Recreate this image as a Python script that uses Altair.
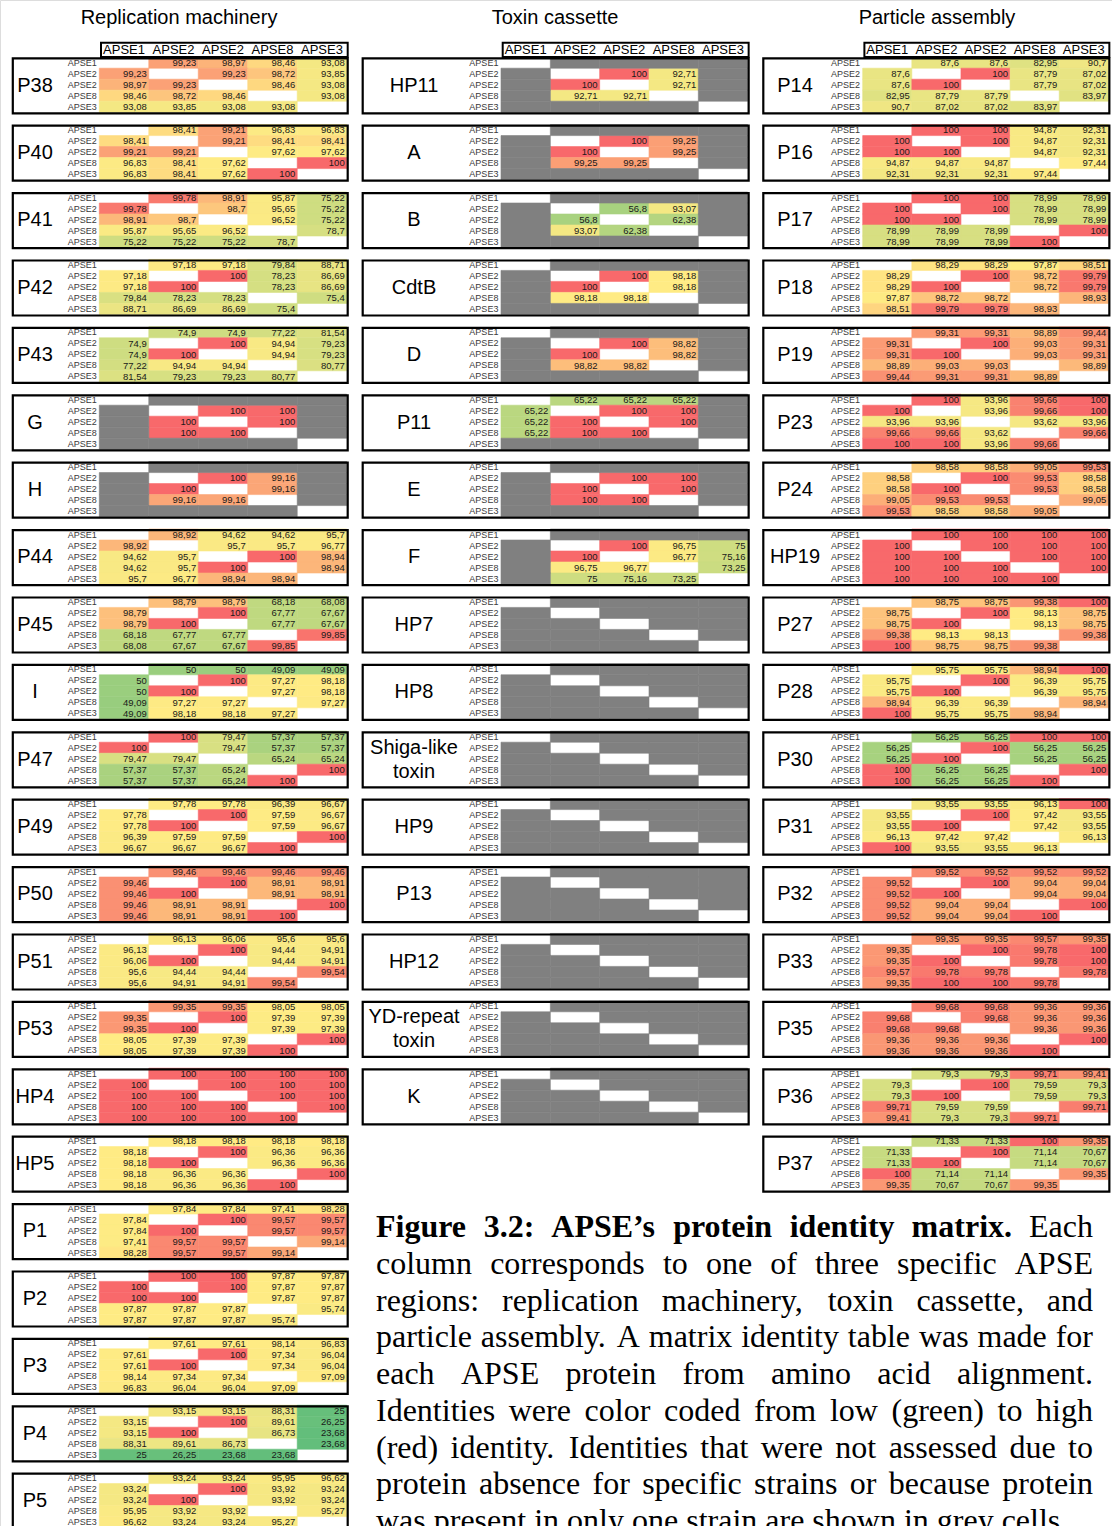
import altair as alt
import pandas as pd

W, H = 1112, 1526

STRAINS = ["APSE1", "APSE2", "APSE2", "APSE8", "APSE3"]

# Pairwise identities (%) above the diagonal, in the order
# (1,2) (1,3) (1,4) (1,5) (2,3) (2,4) (2,5) (3,4) (3,5) (4,5); None = not assessed.
N = None
REPLICATION = {
    "P38": [99.23, 98.97, 98.46, 93.08, 99.23, 98.72, 93.85, 98.46, 93.08, 93.08],
    "P40": [98.41, 99.21, 96.83, 96.83, 99.21, 98.41, 98.41, 97.62, 97.62, 100],
    "P41": [99.78, 98.91, 95.87, 75.22, 98.7, 95.65, 75.22, 96.52, 75.22, 78.7],
    "P42": [97.18, 97.18, 79.84, 88.71, 100, 78.23, 86.69, 78.23, 86.69, 75.4],
    "P43": [74.9, 74.9, 77.22, 81.54, 100, 94.94, 79.23, 94.94, 79.23, 80.77],
    "G":   [N, N, N, N, 100, 100, N, 100, N, N],
    "H":   [N, N, N, N, 100, 99.16, N, 99.16, N, N],
    "P44": [98.92, 94.62, 94.62, 95.7, 95.7, 95.7, 96.77, 100, 98.94, 98.94],
    "P45": [98.79, 98.79, 68.18, 68.08, 100, 67.77, 67.67, 67.77, 67.67, 99.85],
    "I":   [50, 50, 49.09, 49.09, 100, 97.27, 98.18, 97.27, 98.18, 97.27],
    "P47": [100, 79.47, 57.37, 57.37, 79.47, 57.37, 57.37, 65.24, 65.24, 100],
    "P49": [97.78, 97.78, 96.39, 96.67, 100, 97.59, 96.67, 97.59, 96.67, 100],
    "P50": [99.46, 99.46, 99.46, 99.46, 100, 98.91, 98.91, 98.91, 98.91, 100],
    "P51": [96.13, 96.06, 95.6, 95.6, 100, 94.44, 94.91, 94.44, 94.91, 99.54],
    "P53": [99.35, 99.35, 98.05, 98.05, 100, 97.39, 97.39, 97.39, 97.39, 100],
    "HP4": [100, 100, 100, 100, 100, 100, 100, 100, 100, 100],
    "HP5": [98.18, 98.18, 98.18, 98.18, 100, 96.36, 96.36, 96.36, 96.36, 100],
    "P1":  [97.84, 97.84, 97.41, 98.28, 100, 99.57, 99.57, 99.57, 99.57, 99.14],
    "P2":  [100, 100, 97.87, 97.87, 100, 97.87, 97.87, 97.87, 97.87, 95.74],
    "P3":  [97.61, 97.61, 98.14, 96.83, 100, 97.34, 96.04, 97.34, 96.04, 97.09],
    "P4":  [93.15, 93.15, 88.31, 25, 100, 89.61, 26.25, 86.73, 23.68, 23.68],
    "P5":  [93.24, 93.24, 95.95, 96.62, 100, 93.92, 93.24, 93.92, 93.24, 95.27],
}
TOXIN = {
    "HP11": [N, N, N, N, 100, 92.71, N, 92.71, N, N],
    "A":    [N, N, N, N, 100, 99.25, N, 99.25, N, N],
    "B":    [N, N, N, N, 56.8, 93.07, N, 62.38, N, N],
    "CdtB": [N, N, N, N, 100, 98.18, N, 98.18, N, N],
    "D":    [N, N, N, N, 100, 98.82, N, 98.82, N, N],
    "P11":  [65.22, 65.22, 65.22, N, 100, 100, N, 100, N, N],
    "E":    [N, N, N, N, 100, 100, N, 100, N, N],
    "F":    [N, N, N, N, 100, 96.75, 75, 96.77, 75.16, 73.25],
    "HP7":  [N] * 10,
    "HP8":  [N] * 10,
    "Shiga-like toxin": [N] * 10,
    "HP9":  [N] * 10,
    "P13":  [N] * 10,
    "HP12": [N] * 10,
    "YD-repeat toxin": [N] * 10,
    "K":    [N] * 10,
}
PARTICLE = {
    "P14":  [87.6, 87.6, 82.95, 90.7, 100, 87.79, 87.02, 87.79, 87.02, 83.97],
    "P16":  [100, 100, 94.87, 92.31, 100, 94.87, 92.31, 94.87, 92.31, 97.44],
    "P17":  [100, 100, 78.99, 78.99, 100, 78.99, 78.99, 78.99, 78.99, 100],
    "P18":  [98.29, 98.29, 97.87, 98.51, 100, 98.72, 99.79, 98.72, 99.79, 98.93],
    "P19":  [99.31, 99.31, 98.89, 99.44, 100, 99.03, 99.31, 99.03, 99.31, 98.89],
    "P23":  [100, 93.96, 99.66, 100, 93.96, 99.66, 100, 93.62, 93.96, 99.66],
    "P24":  [98.58, 98.58, 99.05, 99.53, 100, 99.53, 98.58, 99.53, 98.58, 99.05],
    "HP19": [100, 100, 100, 100, 100, 100, 100, 100, 100, 100],
    "P27":  [98.75, 98.75, 99.38, 100, 100, 98.13, 98.75, 98.13, 98.75, 99.38],
    "P28":  [95.75, 95.75, 98.94, 100, 100, 96.39, 95.75, 96.39, 95.75, 98.94],
    "P30":  [56.25, 56.25, 100, 100, 100, 56.25, 56.25, 56.25, 56.25, 100],
    "P31":  [93.55, 93.55, 96.13, 100, 100, 97.42, 93.55, 97.42, 93.55, 96.13],
    "P32":  [99.52, 99.52, 99.52, 99.52, 100, 99.04, 99.04, 99.04, 99.04, 100],
    "P33":  [99.35, 99.35, 99.57, 99.35, 100, 99.78, 100, 99.78, 100, 99.78],
    "P35":  [99.68, 99.68, 99.36, 99.36, 99.68, 99.36, 99.36, 99.36, 99.36, 100],
    "P36":  [79.3, 79.3, 99.71, 99.41, 100, 79.59, 79.3, 79.59, 79.3, 99.71],
    "P37":  [71.33, 71.33, 100, 99.35, 100, 71.14, 70.67, 71.14, 70.67, 99.35],
}

CAPTION_BOLD = "Figure 3.2: APSE’s protein identity matrix."
CAPTION_LINES = [
    "Figure 3.2: APSE’s protein identity matrix. Each",
    "column corresponds to one of three specific APSE",
    "regions: replication machinery, toxin cassette, and",
    "particle assembly. A matrix identity table was made for",
    "each APSE protein from amino acid alignment.",
    "Identities were color coded from low (green) to high",
    "(red) identity. Identities that were not assessed due to",
    "protein absence for specific strains or because protein",
    "was present in only one strain are shown in grey cells.",
]

# ---- layout of the three columns of panels ----
SECTIONS = [
    ("Replication machinery", REPLICATION, dict(L=12.8, M=99.3, cw=49.48, name_x=35, title_x=179)),
    ("Toxin cassette", TOXIN, dict(L=362.7, M=501.0, cw=49.33, name_x=414, title_x=555)),
    ("Particle assembly", PARTICLE, dict(L=763.3, M=862.7, cw=49.13, name_x=795, title_x=937)),
]
TOP0, PITCH = 57.0, 67.4
ROW0, ROW_H = 0.2, 11.0
NAME_LH = 24
PAIRS = [(i, j) for i in range(5) for j in range(i + 1, 5)]


def fmt(v):
    return "" if v is None else f"{v:g}".replace(".", ",")


cells, rowlabs, panels, head_boxes, head_labels, titles = [], [], [], [], [], []
for title, table, lay in SECTIONS:
    M, cw = lay["M"], lay["cw"]
    right = M + 5 * cw
    titles.append(dict(x=lay["title_x"], y=18, t=title))
    head_boxes.append(dict(x=M + 1.7, x2=right + 1.0, y=42.7, y2=57.0))
    for c, s in enumerate(STRAINS):
        head_labels.append(dict(x=M + (c + 0.5) * cw, y=50.0, t=s))
    for p, (name, tri) in enumerate(table.items()):
        top = TOP0 + p * PITCH
        full = [[None] * 5 for _ in range(5)]
        for (i, j), v in zip(PAIRS, tri):
            full[i][j] = full[j][i] = v
        n_lines = len(name.split(" "))
        panels.append(dict(x=lay["L"], x2=right + 1.0, y=top + 1.3, y2=top + 56.3,
                           nx=lay["name_x"], ny=top + 28.6 - NAME_LH / 2 * (n_lines - 1),
                           name=name))
        for r in range(5):
            y0 = top + ROW0 + r * ROW_H
            rowlabs.append(dict(x=M - 2.6, y=y0 + ROW_H / 2, t=STRAINS[r]))
            for c in range(5):
                v = full[r][c]
                kind = "diag" if r == c else ("val" if v is not None else "na")
                cells.append(dict(x=M + c * cw, x2=M + (c + 1) * cw, y=y0, y2=y0 + ROW_H,
                                  tx=M + (c + 1) * cw - 2.0, ty=y0 + ROW_H / 2 + 0.2,
                                  value=v, label=fmt(v), kind=kind))

cells = pd.DataFrame(cells)
rowlabs = pd.DataFrame(rowlabs)
panels = pd.DataFrame(panels)
head_boxes = pd.DataFrame(head_boxes)
head_labels = pd.DataFrame(head_labels)
titles = pd.DataFrame(titles)

# ---- justified caption, word by word (Times metrics, 1/1000 em) ----
TIMES = dict(zip("abcdefghijklmnopqrstuvwxyz",
                 [444, 500, 444, 500, 444, 333, 500, 500, 278, 278, 500, 278, 778,
                  500, 500, 500, 500, 333, 389, 278, 500, 500, 722, 500, 500, 444]))
TIMES.update({"A": 722, "E": 611, "I": 333, "P": 556, "S": 556, "F": 556,
              " ": 250, ".": 250, ",": 250, ":": 278, "(": 333, ")": 333, "’": 333})
TIMES.update({d: 500 for d in "0123456789"})
TIMES_BOLD = dict(zip("abcdefghijklmnopqrstuvwxyz",
                      [500, 556, 444, 556, 444, 333, 500, 556, 278, 333, 556, 278, 833,
                       556, 500, 556, 556, 444, 389, 333, 556, 500, 722, 500, 500, 444]))
TIMES_BOLD.update({"A": 722, "E": 667, "F": 611, "P": 611, "S": 556,
                   " ": 250, ".": 250, ":": 333, "’": 333})
TIMES_BOLD.update({d: 500 for d in "0123456789"})

CAP_SIZE = 32
CAP_X0, CAP_X1 = 376, 1093
CAP_Y0, CAP_DY = 1237, 36.75


def wwidth(word, bold):
    tab = TIMES_BOLD if bold else TIMES
    return sum(tab.get(ch, 500) for ch in word) * CAP_SIZE / 1000


n_bold = len(CAPTION_BOLD.split())
words = []
for li, line in enumerate(CAPTION_LINES):
    toks = line.split()
    bolds = [li == 0 and k < n_bold for k in range(len(toks))]
    widths = [wwidth(t, b) for t, b in zip(toks, bolds)]
    last = li == len(CAPTION_LINES) - 1
    gap = 250 * CAP_SIZE / 1000 if last else (CAP_X1 - CAP_X0 - sum(widths)) / (len(toks) - 1)
    x = CAP_X0
    for k, (t, b, w) in enumerate(zip(toks, bolds, widths)):
        end = (k == len(toks) - 1) and not last
        words.append(dict(x=CAP_X1 if end else x, y=CAP_Y0 + li * CAP_DY, t=t,
                          style=("bold" if b else ("end" if end else "reg"))))
        x += w + gap
words = pd.DataFrame(words)

# ---- encodings ----
XS = alt.Scale(domain=[0, W], nice=False, zero=False)
YS = alt.Scale(domain=[0, H], nice=False, zero=False, reverse=True)


def X(f):
    return alt.X(f"{f}:Q", scale=XS, axis=None)


def Y(f):
    return alt.Y(f"{f}:Q", scale=YS, axis=None)


heat = alt.Scale(domain=[23.68, 98.2, 100], range=["#63BE7B", "#FFEB84", "#F8696B"],
                 interpolate="rgb")

val_cells = alt.Chart(cells[cells.kind == "val"]).mark_rect(strokeWidth=0.6).encode(
    x=X("x"), x2="x2", y=Y("y"), y2="y2",
    fill=alt.Fill("value:Q", scale=heat, legend=None),
    stroke=alt.Stroke("value:Q", scale=heat, legend=None),
)
na_cells = alt.Chart(cells[cells.kind == "na"]).mark_rect(
    fill="#808080", stroke="#808080", strokeWidth=0.6
).encode(x=X("x"), x2="x2", y=Y("y"), y2="y2")

val_text = alt.Chart(cells[cells.kind == "val"]).mark_text(
    align="right", baseline="middle", font="Liberation Sans", fontSize=9.5, color="#1a1a1a"
).encode(x=X("tx"), y=Y("ty"), text="label:N")

row_text = alt.Chart(rowlabs).mark_text(
    align="right", baseline="middle", font="Liberation Sans", fontSize=9, color="#3a3a3a"
).encode(x=X("x"), y=Y("y"), text="t:N")

boxes = alt.Chart(panels).mark_rect(fill="transparent", stroke="black", strokeWidth=2.2).encode(
    x=X("x"), x2="x2", y=Y("y"), y2="y2")

names = alt.Chart(panels).mark_text(
    align="center", baseline="middle", font="Liberation Sans", fontSize=20, color="black",
    lineBreak=" ", lineHeight=NAME_LH
).encode(x=X("nx"), y=Y("ny"), text="name:N")

hboxes = alt.Chart(head_boxes).mark_rect(fill="transparent", stroke="black", strokeWidth=2).encode(
    x=X("x"), x2="x2", y=Y("y"), y2="y2")

htext = alt.Chart(head_labels).mark_text(
    align="center", baseline="middle", font="Liberation Sans", fontSize=13, color="black"
).encode(x=X("x"), y=Y("y"), text="t:N")

ttext = alt.Chart(titles).mark_text(
    align="center", baseline="middle", font="Liberation Sans", fontSize=20, color="black"
).encode(x=X("x"), y=Y("y"), text="t:N")

cap_bold = alt.Chart(words[words["style"] == "bold"]).mark_text(
    align="left", baseline="alphabetic", font="Liberation Serif", fontSize=CAP_SIZE,
    fontWeight="bold", color="black"
).encode(x=X("x"), y=Y("y"), text="t:N")
cap_reg = alt.Chart(words[words["style"] == "reg"]).mark_text(
    align="left", baseline="alphabetic", font="Liberation Serif", fontSize=CAP_SIZE, color="black"
).encode(x=X("x"), y=Y("y"), text="t:N")
cap_end = alt.Chart(words[words["style"] == "end"]).mark_text(
    align="right", baseline="alphabetic", font="Liberation Serif", fontSize=CAP_SIZE, color="black"
).encode(x=X("x"), y=Y("y"), text="t:N")

chart = alt.layer(
    val_cells, na_cells, val_text, row_text, boxes, names, hboxes, htext, ttext,
    cap_bold, cap_reg, cap_end
).properties(
    width=W, height=H, autosize=alt.AutoSizeParams(type="none"), padding=0
).configure_view(stroke=None).configure(background="white")

chart.save("out.html", embed_options={"renderer": "svg", "actions": False})
